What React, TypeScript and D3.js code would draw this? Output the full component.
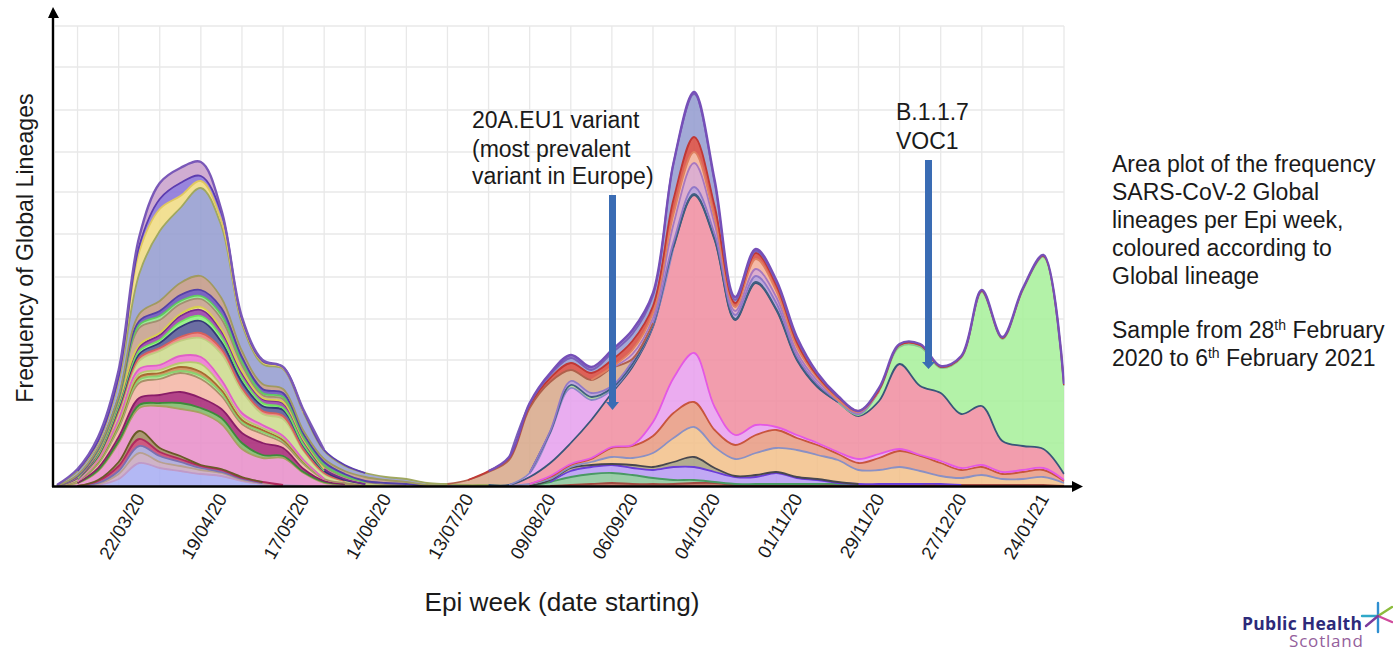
import React from "react";
import * as d3 from "d3";

const WEEKS = 50;
const tickWeeks = [3, 7, 11, 15, 19, 23, 27, 31, 35, 39, 43, 47];
const tickLabels = ["22/03/20", "19/04/20", "17/05/20", "14/06/20", "13/07/20", "09/08/20", "06/09/20", "04/10/20", "01/11/20", "29/11/20", "27/12/20", "24/01/21"];
const gridWeeks = [1, 3, 5, 7, 9, 11, 13, 15, 17, 19, 21, 23, 25, 27, 29, 31, 33, 35, 37, 39, 41, 43, 45, 47, 49];
const gridValues = [43, 85, 126, 167, 209, 252, 294, 334, 376, 419, 460];

// first wave, weekly frequency from 28 February
const w01 = [0, 0, 1, 7, 23, 18, 15, 12, 10, 5, 2, 1];
const w02 = [0, 0, 1, 5, 10, 6, 5, 4, 3, 1, 1];
const w03 = [0, 0, 1, 3, 7, 6, 4, 2, 1, 1];
const w04 = [0, 0, 2, 5, 7, 4, 3, 2, 2, 1, 1];
const w05 = [0, 0, 1, 4, 8, 4, 3, 1, 1, 1];
const w06 = [0, 3, 9, 19, 23, 42, 47, 52, 45, 28, 24, 27, 13, 3, 2, 1];
const w07 = [0, 0, 1, 2, 3, 3, 6, 5, 6, 6, 3, 2, 1, 1];
const w08 = [0, 0, 2, 4, 7, 8, 11, 10, 9, 10, 12, 8, 3, 1];
const w09 = [0, 2, 4, 9, 15, 16, 19, 19, 13, 9, 9, 5, 5, 2, 1];
const w10 = [0, 0, 1, 2, 3, 3, 2, 3, 3, 2, 2, 2, 1];
const w11 = [0, 0, 1, 2, 3, 3, 4, 4, 3, 2, 2, 1, 1];
const w12 = [0, 0, 1, 2, 3, 3, 4, 8, 4, 3, 2, 2, 1];
const w13 = [0, 0, 1, 3, 5, 5, 7, 7, 6, 4, 3, 2, 1];
const w14 = [0, 2, 2, 6, 8, 14, 15, 19, 26, 22, 11, 17, 9, 5, 2, 1, 1, 1];
const w15 = [0, 0, 1, 2, 3, 3, 4, 5, 5, 3, 3, 3, 1, 1];
const w16 = [0, 0, 1, 3, 4, 5, 10, 12, 7, 6, 5, 6, 4, 2, 1];
const w17 = [0, 0, 1, 2, 3, 3, 5, 5, 5, 4, 3, 2, 1];
const w18 = [0, 1, 2, 3, 4, 5, 6, 6, 6, 5, 4, 5, 4, 2, 1];
const w19 = [0, 0, 1, 1, 2, 2, 2, 3, 2, 2, 1, 1, 1];
const w20 = [0, 1, 1, 2, 17, 13, 10, 8, 10, 6, 3, 3, 2, 3, 2, 2, 1];
const w21 = [0, 0, 1, 1, 3, 4, 3, 3, 4, 3, 2, 2, 1, 1, 1];
const w22 = [0, 1, 1, 2, 4, 5, 6, 6, 7, 5, 4, 4, 3, 3, 2, 1, 1, 1];
const w23 = [0, 1, 1, 1, 7, 10, 12, 14, 10, 6, 5, 4, 3, 3, 3, 4, 3, 2, 1];
const w24 = [1, 4, 5, 15, 40, 70, 75, 88, 72, 27, 20, 20, 18, 8, 5, 4, 3, 3, 2, 2, 1, 1];
const w25 = [0, 0, 1, 2, 22, 22, 12, 7, 5, 3, 2, 1];
const w26 = [0, 0, 1, 2, 6, 10, 13, 5, 8, 2, 1, 1, 2, 1, 1];
const w27 = [0, 2, 4, 7, 9, 16, 15, 14, 3, 2, 1, 0, 1];

// second wave, weekly frequency; each list starts at week 20
const a01 = [0, 0, 0, 0, 0, 1, 2, 3, 2, 2, 2, 3, 3, 1, 1, 1, 1, 1, 1, 1, 1, 1, 1, 1, 1, 1, 1, 1, 1];
const a02 = [0, 0, 0, 0, 4, 8, 10, 10, 9, 6, 4, 3, 1, 1, 1, 1, 1, 1, 1];
const a03 = [0, 0, 0, 0, 0, 6, 7, 8, 7, 8, 13, 13, 10, 7, 7, 11, 6, 4, 1, 1, 1, 1, 1, 1];
const a04 = [0, 0, 0, 0, 2, 3, 2, 1, 3, 3, 5, 10, 4, 1, 2, 1, 1, 1, 1];
const a05 = [0, 0, 0, 2, 1, 1, 3, 7, 7, 14, 24, 30, 21, 17, 22, 24, 27, 24, 22, 14, 14, 17, 13, 8, 7, 10, 6, 6, 8, 3];
const a06 = [0, 0, 0, 0, 2, 2, 3, 9, 12, 17, 25, 25, 17, 14, 18, 18, 12, 10, 6, 7, 12, 16, 15, 13, 8, 8, 5, 7, 7, 2];
const a07 = [0, 0, 0, 0, 1, 1, 1, 1, 1, 14, 35, 49, 23, 10, 10, 3, 3, 2, 2, 4, 4, 2, 1, 2, 2, 2, 2, 2, 2, 1];
const a08 = [0, 0, 1, 7, 13, 21, 38, 54, 78, 95, 131, 158, 167, 115, 142, 117, 75, 56, 50, 43, 53, 85, 69, 68, 54, 59, 31, 24, 19, 6];
const a09 = [0, 0, 0, 0, 0, 0, 0, 0, 0, 0, 0, 0, 0, 0, 0, 0, 0, 0, 0, 1, 10, 17, 39, 25, 56, 114, 102, 156, 192, 88];
const a10 = [0, 0, 0, 4, 30, 55, 20, 3, 2, 1];
const a11 = [0, 0, 0, 0, 1, 3, 3, 2, 1, 1, 1, 1, 1, 1, 1, 1, 1, 1];
const a12 = [0, 0, 0, 0, 1, 4, 4, 2, 3, 2, 4, 7, 5, 4, 6, 6, 3, 2, 1, 1];
const a13 = [5, 13, 25, 65, 49, 11, 13, 18, 2];
const a14 = [0, 0, 0, 0, 0, 0, 0, 0, 5, 5, 18, 24, 10, 4, 7, 6, 4, 3, 1, 1];
const a15 = [0, 0, 0, 0, 0, 0, 0, 1, 4, 5, 10, 11, 6, 4, 10, 6, 5, 3, 0, 1];
const a16 = [0, 1, 2, 3, 4, 7, 7, 7, 9, 7, 15, 15, 12, 4, 6, 6, 5, 2, 3, 1, 1, 2, 2, 1, 1, 1, 1, 1, 1, 1];
const a17 = [0, 0, 0, 1, 3, 5, 3, 7, 7, 10, 36, 43, 23, 3, 2, 3, 3, 2];
const a18 = [0, 0, 1, 1, 2, 3, 3, 3, 4, 3, 0, 2, 3, 3, 2, 2, 2, 1, 1, 0, 2, 1, 1, 1, 1, 1, 1, 1, 1, 1];

const early = [w01, w02, w03, w04, w05, w06, w07, w08, w09, w10, w11, w12, w13, w14, w15, w16, w17, w18, w19, w20, w21, w22, w23, w24, w25, w26, w27];
const late = [a01, a02, a03, a04, a05, a06, a07, a08, a09, a10, a11, a12, a13, a14, a15, a16, a17, a18];

const earlyFill = ["#a9aef2", "#c8a8c0", "#a9a6d8", "#c8446e", "#a08a60", "#e88fca", "#7fb86a", "#a82a78", "#f4b6a6", "#a8ec90", "#c98a50", "#cfe08a", "#ee78d0", "#cddb8e", "#ea7d78", "#565a96", "#8ef07e", "#9a3fa8", "#e8e070", "#c6a08c", "#8ce88a", "#6a50b8", "#c49a88", "#959dd0", "#f0dc84", "#8a74d8", "#c9a2cc"];
const earlyLine = ["#c09ac8", "#b8a090", "#7a70b0", "#b02a60", "#6a5a28", "#a8a060", "#3e8a3a", "#8a1f68", "#a89068", "#8cd070", "#a86a30", "#b8c870", "#e060c8", "#c0cc80", "#d8605c", "#343878", "#70e060", "#7a2c90", "#d8d050", "#a09070", "#60c860", "#5440a8", "#a09a60", "#a0a860", "#e0c860", "#5c3cb0", "#7a58b8"];
const lateFill = ["#c06a5a", "#8cc79c", "#b89cf2", "#a8a080", "#f3c18c", "#e89c84", "#e8a0ee", "#f08fa2", "#a8f09c", "#e6a2ee", "#a8dc90", "#b59cd8", "#d8aa8c", "#d8a4c8", "#f4b09a", "#d84c42", "#959dd0", "#8a6cc4"];
const lateLine = ["#a04a40", "#4a9a64", "#6a3cd8", "#47474f", "#8a90c4", "#c8543c", "#e458e4", "#39567a", "#88c890", "#8a88c8", "#3f5f80", "#9078c8", "#b0604c", "#a878c0", "#e08060", "#c03834", "#7a60b8", "#7650b8"];

const pad = (v: number[], lead: number) => d3.range(WEEKS).map((i) => (i < lead ? 0 : v[i - lead] ?? 0));
const table = d3.range(WEEKS).map((i) => {
  const row: Record<string, number> = { week: i };
  early.forEach((v, k) => (row["e" + k] = pad(v, 0)[i]));
  late.forEach((v, k) => (row["l" + k] = pad(v, 20)[i]));
  return row;
});
const keys = [...early.map((_, k) => "e" + k), ...late.map((_, k) => "l" + k)];
const fills = [...earlyFill, ...lateFill];
const lines = [...earlyLine, ...lateLine];

const x = d3.scaleLinear().domain([0, 49]).range([57, 1064]);
const y = d3.scaleLinear().domain([0, 460]).range([486, 26]);
const series = d3.stack<Record<string, number>>().keys(keys)(table);

const FONT = "'Liberation Sans', Arial, sans-serif";
type S = d3.Series<Record<string, number>, string>;
type P = d3.SeriesPoint<Record<string, number>>;
const on = (s: S, i: number) => i >= 0 && i < WEEKS && s[i][1] - s[i][0] > 0;
const shown = (s: S) => (_: P, i: number) => on(s, i) || on(s, i - 1) || on(s, i + 1);
const curve = d3.curveCatmullRom.alpha(0.5);

export default function App() {
  const area = (s: S) =>
    d3.area<P>().defined(shown(s)).x((_, i) => x(i)).y0((d) => y(d[0])).y1((d) => y(d[1])).curve(curve)(s) as string;
  const top = (s: S) =>
    d3.line<P>().defined(shown(s)).x((_, i) => x(i)).y((d) => y(d[1])).curve(curve)(s) as string;
  return (
    <svg width={1393} height={652} style={{ position: "absolute", left: 0, top: 0, background: "#fff", fontFamily: FONT }}>
      <defs>
        <clipPath id="plot"><rect x={54} y={20} width={1010.5} height={466} /></clipPath>
        <filter id="soft"><feGaussianBlur stdDeviation="0.45" /></filter>
      </defs>
      <g stroke="#e8e8e8" strokeWidth={1.3}>
        {gridValues.map((v) => <line key={v} x1={55} x2={1064} y1={y(v)} y2={y(v)} />)}
        {gridWeeks.map((w) => <line key={w} x1={x(w)} x2={x(w)} y1={26} y2={486} />)}
      </g>
      <g clipPath="url(#plot)" filter="url(#soft)">
        {series.map((s, k) => (
          <path key={s.key} d={area(s)} fill={fills[k]} fillOpacity={0.88} stroke="none" />
        ))}
        {series.map((s, k) => (
          <path key={s.key} d={top(s)} fill="none" stroke={lines[k]} strokeWidth={k === keys.length - 1 || k === 26 ? 2.4 : 1.8} strokeLinejoin="round" />
        ))}
      </g>
      <g stroke="#000" strokeWidth={2.4}>
        <line x1={53} x2={53} y1={14} y2={487} />
        <line x1={52} x2={1074} y1={486.5} y2={486.5} />
      </g>
      <path d="M53,7 L48,18 L59,18 Z M1083,486.5 L1072,481 L1072,492 Z" fill="#000" />
      <g fontSize={18.5} fill="#1a1a1a">
        {tickWeeks.map((w, i) => (
          <text key={w} transform={`translate(${x(w) + 22.5},${496}) rotate(-60)`} textAnchor="end" dominantBaseline="middle">{tickLabels[i]}</text>
        ))}
      </g>
      <text x={562} y={611} textAnchor="middle" fontSize={26.2} fill="#1a1a1a">Epi week (date starting)</text>
      <text transform="translate(33,248) rotate(-90)" textAnchor="middle" fontSize={23.2} fill="#1a1a1a">Frequency of Global Lineages</text>
      <g fontSize={23} fill="#1a1a1a">
        <text x={472} y={128}>20A.EU1 variant</text>
        <text x={472} y={157}>(most prevalent</text>
        <text x={472} y={184}>variant in Europe)</text>
        <text x={896} y={120}>B.1.1.7</text>
        <text x={896} y={149}>VOC1</text>
      </g>
      <g fill="#3a6cb4">
        <path d="M609,195 H616 V402 H619 L612.5,410 L606,402 H609 Z" />
        <path d="M925,160 H932 V362 H935 L928.5,369 L922,362 H925 Z" />
      </g>
      <g fontSize={23} fill="#1a1a1a">
        <text x={1112} y={172}>Area plot of the frequency</text>
        <text x={1112} y={200}>SARS-CoV-2 Global</text>
        <text x={1112} y={228}>lineages per Epi week,</text>
        <text x={1112} y={256}>coloured according to</text>
        <text x={1112} y={284}>Global lineage</text>
        <text x={1112} y={338}>Sample from 28<tspan fontSize={14} dy={-8}>th</tspan><tspan dy={8}> February</tspan></text>
        <text x={1112} y={366}>2020 to 6<tspan fontSize={14} dy={-8}>th</tspan><tspan dy={8}> February 2021</tspan></text>
      </g>
      <text x={1242} y={630} fontSize={17.5} fontWeight={700} fill="#2d2a7a" fontFamily="'Open Sans', sans-serif" textLength={120}>Public Health</text>
      <text x={1289} y={647} fontSize={17} fill="#94609c" fontFamily="'Open Sans', sans-serif" textLength={74}>Scotland</text>
      <g strokeWidth={2.4} strokeLinecap="round">
        <line x1={1378} x2={1378} y1={603} y2={632} stroke="#2f8fd0" />
        <line x1={1362} x2={1377} y1={616} y2={616} stroke="#2fa8c8" />
        <line x1={1378} x2={1392} y1={616} y2={607} stroke="#8cbc3c" />
        <line x1={1378} x2={1392} y1={616} y2={622} stroke="#d04a9c" />
        <line x1={1378} x2={1366} y1={616} y2={626} stroke="#7a3c9c" />
      </g>
    </svg>
  );
}
